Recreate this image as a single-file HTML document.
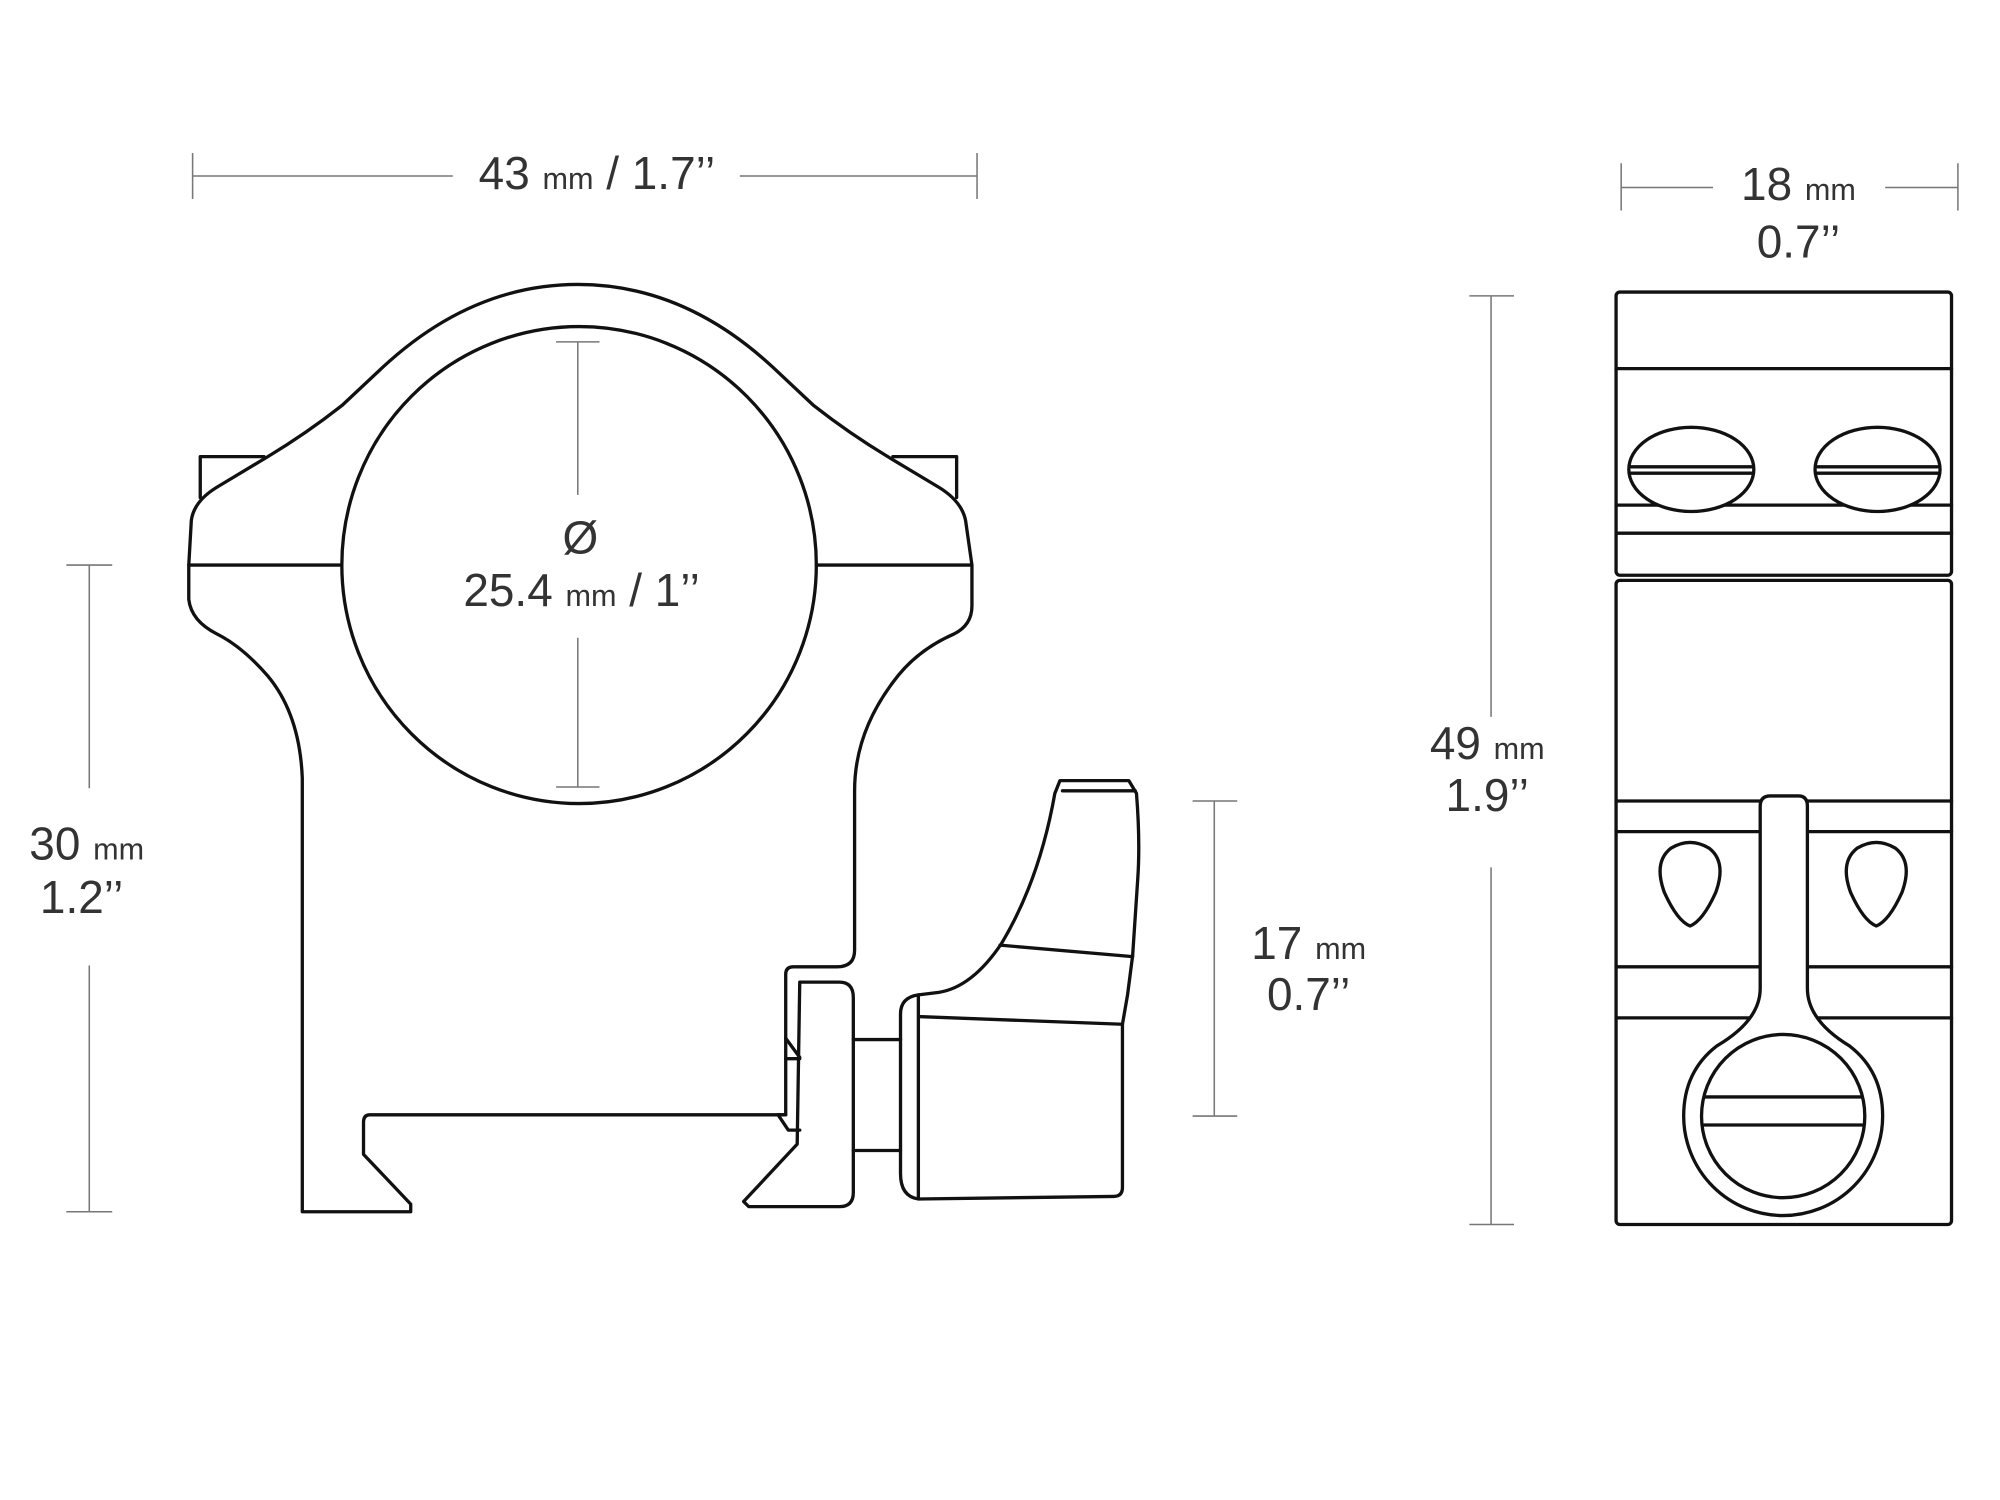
<!DOCTYPE html>
<html><head><meta charset="utf-8"><style>
html,body{margin:0;padding:0;background:#fff;width:2000px;height:1500px;overflow:hidden}
svg{display:block}
text{font-family:"Liberation Sans",sans-serif;fill:#333;text-anchor:middle}
.b{font-size:36px}.s{font-size:24px}
</style></head><body>
<svg width="2000" height="1500" viewBox="0 0 1568 1176" xmlns="http://www.w3.org/2000/svg">
<g stroke="#777" stroke-width="1.2" fill="none">
<path d="M151,138H355M580,138H766M151,120V156M766,120V156"/>
<path d="M1271,147H1343M1478,147H1535M1271,128V165M1535,128V165"/>
<path d="M70,443V618M70,757V950M52,443H88M52,950H88"/>
<path d="M1169,232V562M1169,680V960M1152,232H1187M1152,960H1187"/>
<path d="M952,628V875M935,628H970M935,875H970"/>
<path d="M453,268V388M453,500V617M436,268H470M436,617H470"/>
</g>
<text x="468" y="148" class="b">43 <tspan class="s">mm</tspan> / 1.7’’</text>
<text x="1410" y="157" class="b">18 <tspan class="s">mm</tspan></text>
<text x="1410" y="202" class="b">0.7’’</text>
<text x="68" y="674" class="b">30 <tspan class="s">mm</tspan></text>
<text x="64" y="716" class="b">1.2’’</text>
<text x="1166" y="595" class="b">49 <tspan class="s">mm</tspan></text>
<text x="1166" y="636" class="b">1.9’’</text>
<text x="1026" y="752" class="b">17 <tspan class="s">mm</tspan></text>
<text x="1026" y="792" class="b">0.7’’</text>
<text x="455" y="434" class="b">Ø</text>
<text x="456" y="475" class="b">25.4 <tspan class="s">mm</tspan> / 1’’</text>

<g stroke="#111" stroke-width="2.6" fill="none" stroke-linejoin="round" stroke-linecap="round">
<path d="M157,390V358H207M700,358H750V390"/>
<path d="M148,443 L150,408 Q152,393 170,382 L210,358 Q240,340 268,318 L300,288 Q370,223 453,223 Q536,223 606,288 L638,318 Q666,340 696,358 L736,382 Q754,393 757,408 L762,443 L762,475 Q762,490 748,497 Q718,510 700,535 Q670,575 670,620 L670,745 Q670,758 656,758 L622,758 Q616,758 616,764 L616,874 L290,874 Q285,874 285,880 L285,905 L322,944 L322,950 L237,950 L237,610 Q235,560 210,530 Q190,507 170,497 Q150,487 148,470 Z"/>
<path d="M148,443H268M640,443H762"/>
<ellipse cx="454" cy="443" rx="186" ry="187"/>
<path d="M627,770 L658,770 Q669,770 669,782 L669,935 Q669,946 658,946 L587,946 L583,942 L625,897 L627,770"/>
<path d="M616,874 L610,874 L618,886 L627,886M616,814 L627,829M616,830H627"/>
<path d="M669,815H706M669,902H706"/>
<path d="M720,780 L736,778 Q762,774 785,740 Q815,690 827,622 L831,612 L885,612 L891,622 Q894,660 892,689 L888,749 L884,780 L880,803 L880,931 Q880,938 873,938 L720,940 Q706,938 706,920 L706,795 Q706,782 720,780 Z"/>
<path d="M720,780V939M720,797L880,803M784,741L888,750M833,620H890"/>
<rect x="1267" y="229" width="263" height="222" rx="3"/>
<rect x="1267" y="455" width="263" height="505" rx="3"/>
<path d="M1267,289H1530M1267,396H1530M1267,418H1530M1267,628H1530M1267,652H1530M1267,758H1530M1267,798H1530"/>
<ellipse cx="1326" cy="368" rx="49" ry="33" fill="#fff"/>
<ellipse cx="1472" cy="368" rx="49" ry="33" fill="#fff"/>
<path d="M1279,366H1373M1279,371H1373M1425,366H1519M1425,371H1519"/>
<path d="M1325,726 Q1315,722 1305,700 Q1296,676 1310,665 Q1325,656 1340,665 Q1354,676 1345,700 Q1335,722 1325,726 Z"/>
<path d="M1471,726 Q1461,722 1451,700 Q1442,676 1456,665 Q1471,656 1486,665 Q1500,676 1491,700 Q1481,722 1471,726 Z"/>
<path d="M1380,632 Q1380,624 1388,624 L1410,624 Q1417,624 1417,632 L1417,775 Q1417,800 1450,820 Q1476,840 1476,875 A78,78 0 0 1 1320,875 Q1320,840 1346,820 Q1380,800 1380,775 Z" fill="#fff"/>
<circle cx="1398" cy="875" r="64"/>
<path d="M1336,860H1460M1336,882H1460"/>
</g>
</svg>
</body></html>
